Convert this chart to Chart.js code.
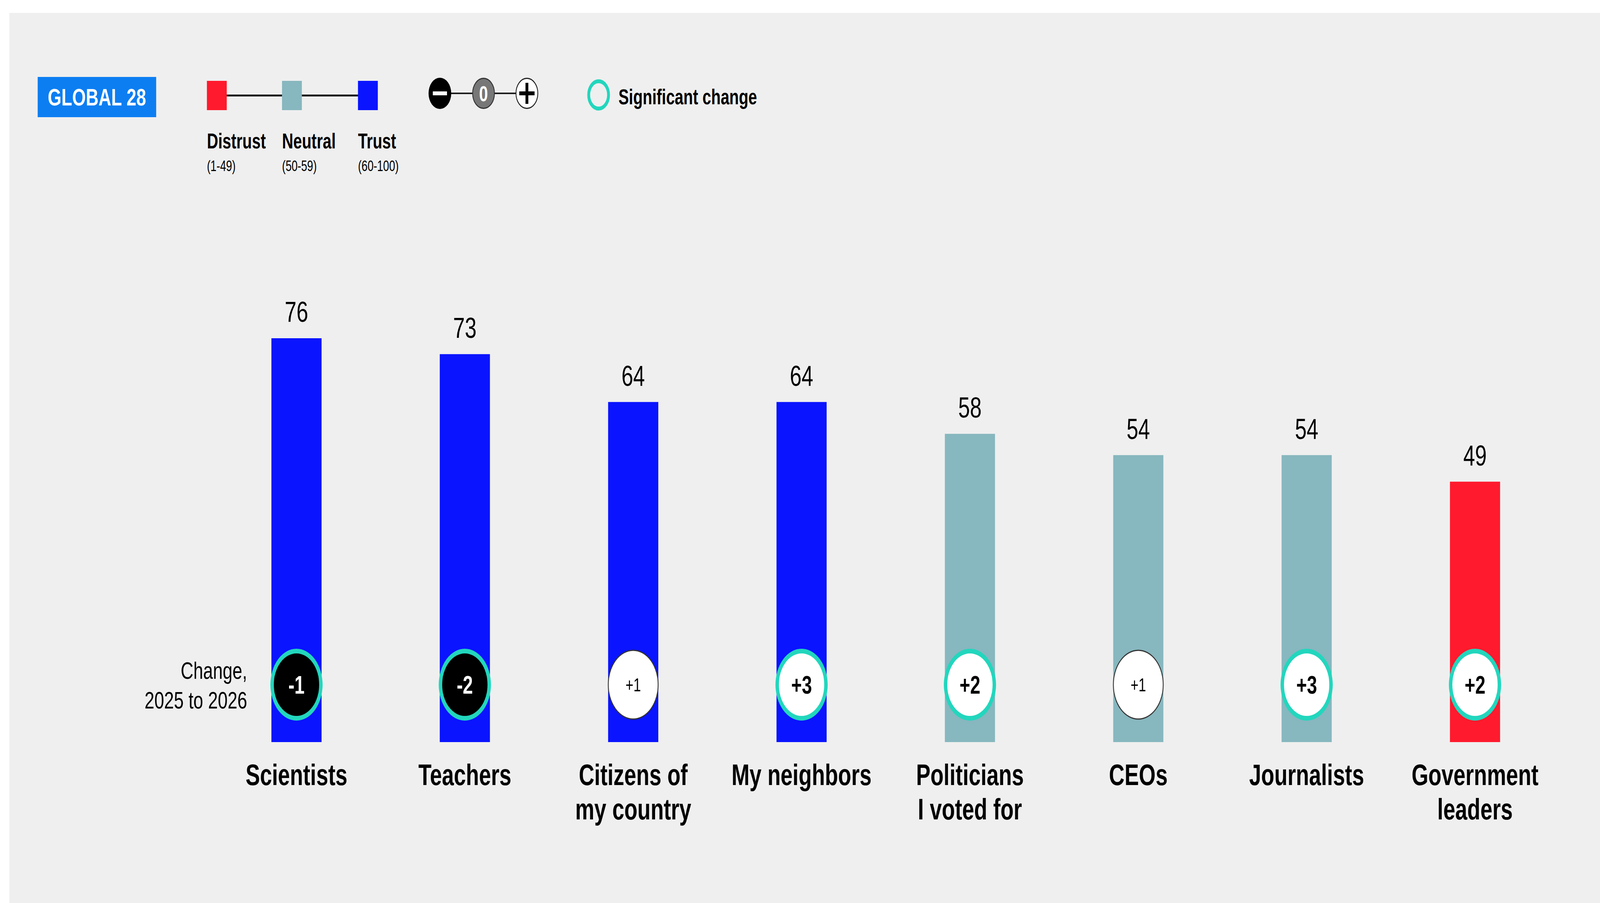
<!DOCTYPE html>
<html>
<head>
<meta charset="utf-8">
<title>Trust in people - Global 28</title>
<script src="https://cdn.jsdelivr.net/npm/chart.js@4.4.1/dist/chart.umd.min.js"></script>
<style>
  html, body { margin: 0; padding: 0; background: #fff; overflow: hidden; }
  body { font-family: "Liberation Sans", Arial, Helvetica, sans-serif; }
  #stage { position: absolute; left: 0; top: 0; width: 5645px; height: 2312px; transform-origin: 0 0; }
  #panel { position: absolute; left: 33px; top: 33px; right: 0; bottom: 0; background: #efefef; }
  #chart { position: absolute; left: 0; top: 0; }
  .abs { position: absolute; }
  .txt { position: absolute; line-height: 1; color: #000; white-space: nowrap; }
  #badge { left: 133px; top: 197px; width: 418px; height: 103px; background: #0c7ef2;
           color: #fff; font-weight: bold; font-size: 62px; display: flex;
           align-items: center; justify-content: center; }
  .sq { position: absolute; top: 207px; width: 70px; height: 75px; }
  .hline { position: absolute; height: 5px; background: #1e1e1e; }
  .dot { position: absolute; width: 80px; height: 80px; border-radius: 50%; box-sizing: border-box; }
</style>
</head>
<body>
<div id="stage">
<div id="panel"></div>

<!-- header legend -->
<div id="badge" class="abs">GLOBAL 28</div>

<div class="hline" style="left:765px; top:242px; width:535px;"></div>
<div class="sq" style="left:730px; background:#ff1a2d;"></div>
<div class="sq" style="left:995px; background:#87b7bf;"></div>
<div class="sq" style="left:1263px; background:#0a14ff;"></div>

<div class="txt" style="left:730px; top:334px; font-size:55px; font-weight:bold;">Distrust</div>
<div class="txt" style="left:995px; top:334px; font-size:55px; font-weight:bold;">Neutral</div>
<div class="txt" style="left:1263px; top:334px; font-size:55px; font-weight:bold;">Trust</div>
<div class="txt" style="left:730px; top:406px; font-size:38px;">(1-49)</div>
<div class="txt" style="left:995px; top:406px; font-size:38px;">(50-59)</div>
<div class="txt" style="left:1263px; top:406px; font-size:38px;">(60-100)</div>

<div class="hline" style="left:1552px; top:237px; width:307px; height:4px;"></div>
<div class="dot" style="left:1512px; top:199px; background:#000;"></div>
<div class="abs" style="left:1527px; top:234px; width:50px; height:10px; background:#fff;"></div>
<div class="dot" style="left:1666px; top:199px; background:#777; border:3px solid #333;"></div>
<div class="txt" style="left:1666px; top:212px; width:80px; text-align:center; font-size:56px; font-weight:bold; color:#fff;">0</div>
<div class="dot" style="left:1819px; top:199px; background:#fff; border:3px solid #222;"></div>
<div class="abs" style="left:1832px; top:234px; width:54px; height:10px; background:#000;"></div>
<div class="abs" style="left:1854px; top:212px; width:10px; height:54px; background:#000;"></div>

<div class="dot" style="left:2072px; top:203px; border:10px solid #22d6bd;"></div>
<div class="txt" style="left:2182px; top:221px; font-size:55px; font-weight:bold;">Significant change</div>

<canvas id="chart" width="5645" height="2312" style="width:5645px;height:2312px;"></canvas>
</div>

<script>
(function () {
  var FONT = '"Liberation Sans", Arial, Helvetica, sans-serif';

  // Trust index per group, Global 28
  var CATEGORIES = [
    ['Scientists'], ['Teachers'], ['Citizens of', 'my country'], ['My neighbors'],
    ['Politicians', 'I voted for'], ['CEOs'], ['Journalists'], ['Government', 'leaders']
  ];
  var TRUST = [76, 73, 64, 64, 58, 54, 54, 49];
  // change, 2025 to 2026
  var CHANGE = [-1, -2, 1, 3, 2, 1, 3, 2];
  var SIGNIFICANT = [true, true, false, true, true, false, true, true];

  var RED = '#ff1a2d';
  var NEUTRAL = '#87b7bf';
  var BLUE = '#0a14ff';
  var TEAL = '#22d6bd';

  // fit the 5645x2312 design into whatever viewport we get
  var stage = document.getElementById('stage');
  var sx = window.innerWidth / 5645, sy = window.innerHeight / 2312;
  stage.style.transform = 'scale(' + sx + ',' + sy + ')';

  function bandColor(v) {
    if (v < 50) return RED;
    if (v < 60) return NEUTRAL;
    return BLUE;
  }

  function fmtChange(v) {
    return v > 0 ? '+' + v : String(v);
  }

  var annotations = {
    id: 'annotations',
    afterDatasetsDraw: function (chart) {
      var ctx = chart.ctx;
      var area = chart.chartArea;
      var rowY = area.bottom - 147;
      var bars = chart.getDatasetMeta(0).data;
      ctx.save();
      ctx.textAlign = 'center';
      ctx.textBaseline = 'alphabetic';
      bars.forEach(function (bar, i) {
        // value above bar
        ctx.fillStyle = '#000';
        ctx.font = '74px ' + FONT;
        ctx.fillText(String(TRUST[i]), bar.x, bar.y - 42);

        // change bubble
        var neg = CHANGE[i] < 0;
        ctx.beginPath();
        if (SIGNIFICANT[i]) {
          ctx.arc(bar.x, rowY, 86, 0, Math.PI * 2);
          ctx.fillStyle = neg ? '#000' : '#fff';
          ctx.fill();
          ctx.lineWidth = 12;
          ctx.strokeStyle = TEAL;
          ctx.stroke();
          ctx.fillStyle = neg ? '#fff' : '#000';
          ctx.font = 'bold 64px ' + FONT;
          ctx.fillText(fmtChange(CHANGE[i]), bar.x, rowY + 23);
        } else {
          ctx.arc(bar.x, rowY, 88, 0, Math.PI * 2);
          ctx.fillStyle = neg ? '#000' : '#fff';
          ctx.fill();
          ctx.lineWidth = 3;
          ctx.strokeStyle = '#333';
          ctx.stroke();
          ctx.fillStyle = neg ? '#fff' : '#000';
          ctx.font = '48px ' + FONT;
          ctx.fillText(fmtChange(CHANGE[i]), bar.x, rowY + 17);
        }
      });

      ctx.fillStyle = '#000';
      ctx.textAlign = 'right';
      ctx.font = '62px ' + FONT;
      ctx.fillText('Change,', area.left + 123, rowY - 15);
      ctx.fillText('2025 to 2026', area.left + 123, rowY + 61);
      ctx.restore();
    }
  };

  new Chart(document.getElementById('chart'), {
    type: 'bar',
    data: {
      labels: CATEGORIES,
      datasets: [{
        data: TRUST,
        backgroundColor: TRUST.map(bandColor),
        borderWidth: 0,
        barThickness: 176
      }]
    },
    options: {
      responsive: false,
      animation: false,
      devicePixelRatio: 1,
      layout: { padding: { left: 749, right: 144, top: 540, bottom: 0 } },
      plugins: { legend: { display: false }, tooltip: { enabled: false } },
      scales: {
        x: {
          grid: { display: false, drawTicks: false },
          border: { display: false },
          ticks: {
            color: '#000',
            padding: 45,
            maxRotation: 0,
            autoSkip: false,
            font: { family: FONT, size: 76, weight: 'bold', lineHeight: 1.16 }
          },
          afterFit: function (scale) { scale.height = 412; }
        },
        y: {
          display: false,
          min: 0,
          max: 100
        }
      }
    },
    plugins: [annotations]
  });
})();
</script>
</body>
</html>
